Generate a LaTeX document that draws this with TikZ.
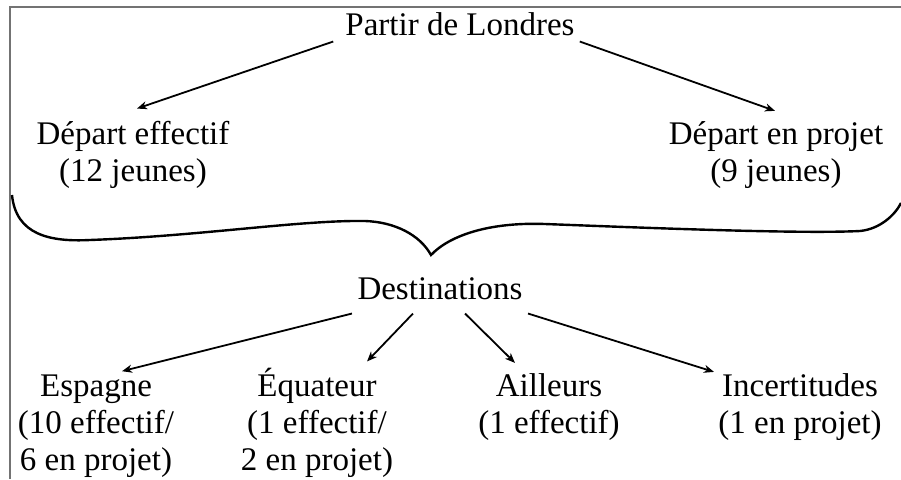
\documentclass[tikz,border=0pt]{standalone}
\usepackage{fontspec}
\setmainfont{Liberation Serif}
\usetikzlibrary{arrows.meta}
\begin{document}
\begin{tikzpicture}[x=1pt,y=-1pt,lbl/.style={align=center,anchor=base,inner sep=0pt,font=\fontsize{33}{37}\selectfont},arr/.style={-{Stealth[length=10pt,width=8pt,inset=3pt]},line width=1.8pt},frm/.style={line width=1.2pt,draw=black!55}]
\useasboundingbox (0,0) rectangle (901,479);
\draw[frm] (901,7) -- (10,7) -- (10,479);
\node[lbl] (top) at (460,35) {Partir de Londres};
\node[lbl] (eff) at (133,181) {Départ effectif\\(12 jeunes)};
\node[lbl] (proj) at (776,181) {Départ en projet\\(9 jeunes)};
\node[lbl] (dest) at (440,299) {Destinations};
\node[lbl] (esp) at (96,470) {Espagne\\(10 effectif/\\6 en projet)};
\node[lbl] (equ) at (317,470) {Équateur\\(1 effectif/\\2 en projet)};
\node[lbl] (ail) at (549,433) {Ailleurs\\(1 effectif)};
\node[lbl] (inc) at (800,433) {Incertitudes\\(1 en projet)};
\draw[arr] ([xshift=-12pt,yshift=-6pt]top.south west) -- ([xshift=4pt,yshift=12pt]eff.north);
\draw[arr] ([xshift=5pt,yshift=-6pt]top.south east) -- ([xshift=-1pt,yshift=10pt]proj.north);
\draw[line width=2.4pt] (12,195) .. controls (16,235) and (50,242) .. (90,240)
   .. controls (200,236) and (300,220) .. (365,221)
   .. controls (395,222) and (420,235) .. (431,255)
   .. controls (450,235) and (490,222) .. (545,224)
   .. controls (650,228) and (800,234) .. (860,231)
   .. controls (880,229) and (895,215) .. (901,203);
\foreach \n/\sx/\ex/\ey in %
{esp/-88/26/3,equ/-27/50/6,ail/25/-34/10,inc/88/-86/1} {
   \draw[arr] ([xshift=\sx pt,yshift=-14pt]dest.south) -- ([xshift=\ex pt,yshift=\ey pt]\n.north);
}
\end{tikzpicture}
\end{document}
